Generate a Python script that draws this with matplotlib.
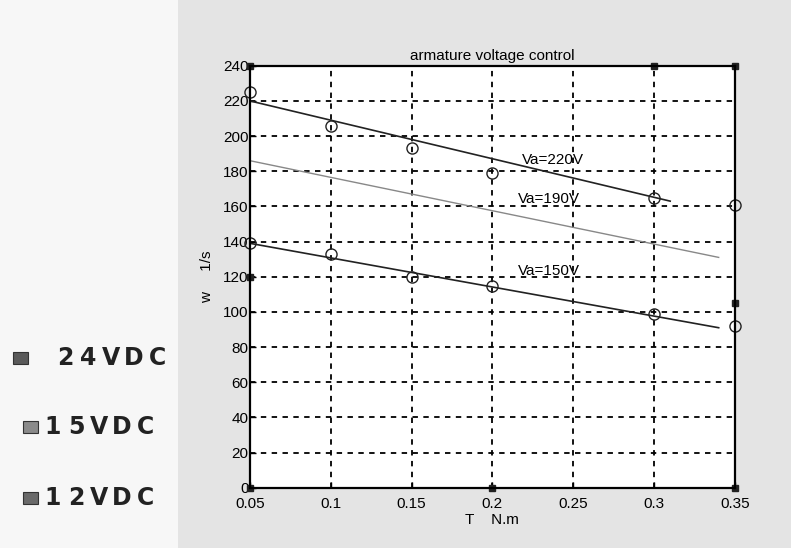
import matplotlib
matplotlib.use("Agg")
import matplotlib.pyplot as plt
from matplotlib.patches import Rectangle

# ---- data ----
torque_ticks = [0.05, 0.1, 0.15, 0.2, 0.25, 0.3, 0.35]
speed_ticks = [0, 20, 40, 60, 80, 100, 120, 140, 160, 180, 200, 220, 240]

meas_T = [0.05, 0.1, 0.15, 0.2, 0.3, 0.35]
meas_220 = [225, 206, 193, 179, 165, 161]
meas_150 = [139, 133, 120, 115, 99, 92]

line220_T = [0.05, 0.31]
line220_w = [220, 163]
line190_T = [0.05, 0.34]
line190_w = [186, 131]
line150_T = [0.05, 0.34]
line150_w = [139, 91]

legend_labels = ["24VDC", "15VDC", "12VDC"]
legend_colors = ["#5a5a5a", "#8a8a8a", "#6a6a6a"]

font = "Liberation Sans"

W, H = 791, 548
fig = plt.figure(figsize=(W / 100, H / 100), dpi=100, facecolor="#f7f7f7")
fig.patches.append(Rectangle((0.225, 0), 0.775, 1, transform=fig.transFigure,
                             facecolor="#e4e4e4", edgecolor="none", zorder=-10))

ax = fig.add_axes([0.316, 0.11, 0.613, 0.77])
ax.set_zorder(5)
ax.set_facecolor("white")
ax.set_xlim(0.05, 0.35)
ax.set_ylim(0, 240)
ax.set_xticks(torque_ticks)
ax.set_xticklabels([f"{t:g}" for t in torque_ticks])
ax.set_yticks(speed_ticks)
ax.grid(True, color="black", linestyle=(0, (3, 3)), linewidth=1.3)
for s in ax.spines.values():
    s.set_linewidth(1.6)
ax.tick_params(direction="in", length=4, width=1, labelsize=11)
ax.tick_params(axis="x", pad=7)
ax.tick_params(axis="y", pad=1)
for lab in ax.get_xticklabels() + ax.get_yticklabels():
    lab.set_fontfamily(font)

ax.plot(line220_T, line220_w, color="#222222", lw=1.2)
ax.plot(line190_T, line190_w, color="#888888", lw=1.0)
ax.plot(line150_T, line150_w, color="#222222", lw=1.2)
ax.plot(meas_T, meas_220, "o", mfc="none", mec="#222222", ms=8, mew=1.0, clip_on=False)
ax.plot(meas_T, meas_150, "o", mfc="none", mec="#222222", ms=8, mew=1.0, clip_on=False)

ax.text(0.218, 184, "Va=220V", fontsize=11, family=font)
ax.text(0.216, 162, "Va=190V", fontsize=11, family=font)
ax.text(0.216, 121, "Va=150V", fontsize=11, family=font)

ax.set_title("armature voltage control", fontsize=11, family=font, pad=4)
ax.set_xlabel("T    N.m", fontsize=11, family=font, labelpad=1)
ax.set_ylabel("w     1/s", fontsize=11, family=font)
ax.yaxis.set_label_coords(-0.075, 0.5)

# selection handles
hx = [0.05, 0.3, 0.35, 0.05, 0.35, 0.05, 0.2, 0.35]
hy = [240, 240, 240, 120, 105, 0, 0, 0]
ax.plot(hx, hy, "s", color="#222222", ms=5, clip_on=False)

# left legend
starts = [55, 43, 43]
ys = [358, 427, 498]
sq_x = [22, 32, 32]
for lab, col, x0, yp, sx in zip(legend_labels, legend_colors, starts, ys, sq_x):
    fy = 1 - yp / H
    fig.patches.append(Rectangle(((sx - 9) / W, fy - 6 / H), 15 / W, 12 / H,
                                 transform=fig.transFigure, facecolor=col,
                                 edgecolor="#333333", lw=0.8))
    for k, ch in enumerate(lab):
        fig.text((x0 + 10 + k * 23) / W, fy, ch, fontsize=17, fontweight="bold",
                 color="#222222", va="center", ha="center", family="DejaVu Sans")

fig.savefig("out.png", dpi=100, facecolor=fig.get_facecolor())
